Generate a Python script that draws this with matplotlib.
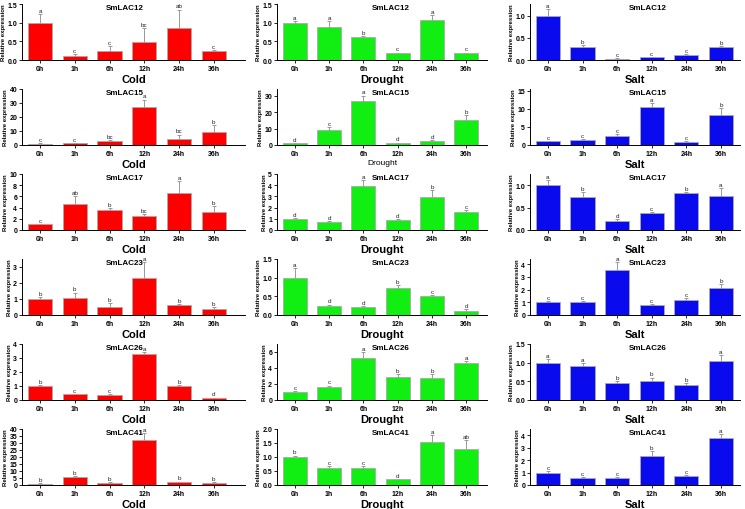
import numpy as np
import matplotlib
matplotlib.use("Agg")
import matplotlib.pyplot as plt

plt.rcParams['font.family'] = ['Liberation Sans', 'DejaVu Sans']

times = ["0h", "1h", "6h", "12h", "24h", "36h"]
genes = ["SmLAC12", "SmLAC15", "SmLAC17", "SmLAC23", "SmLAC26", "SmLAC41"]
treatments = ["Cold", "Drought", "Salt"]

# relative expression, error (upper only) and significance letters
lac12_cold = [1.0, 0.12, 0.25, 0.48, 0.87, 0.24]
lac12_cold_err = [0.22, 0.05, 0.13, 0.37, 0.48, 0.03]
lac12_cold_sig = "a c c bc ab c".split()
lac12_drought = [1.0, 0.89, 0.61, 0.19, 1.06, 0.19]
lac12_drought_err = [0.05, 0.16, 0.02, 0.01, 0.14, 0.01]
lac12_drought_sig = "a a b c a c".split()
lac12_salt = [1.0, 0.29, 0.03, 0.06, 0.12, 0.29]
lac12_salt_err = [0.15, 0.04, 0.005, 0.01, 0.01, 0.03]
lac12_salt_sig = "a b c c c b".split()

lac15_cold = [1.0, 1.3, 3.2, 27.5, 4.5, 9.0]
lac15_cold_err = [0.2, 0.2, 0.5, 5.0, 3.0, 5.5]
lac15_cold_sig = "c c bc a bc b".split()
lac15_drought = [1.0, 9.0, 26.5, 1.2, 2.3, 15.0]
lac15_drought_err = [0.2, 1.8, 3.5, 0.3, 0.8, 3.0]
lac15_drought_sig = "d c a d d b".split()
lac15_salt = [1.0, 1.4, 2.6, 10.5, 0.9, 8.2]
lac15_salt_err = [0.1, 0.2, 0.4, 1.0, 0.1, 2.0]
lac15_salt_sig = "c c c a c b".split()

lac17_cold = [1.0, 4.6, 3.6, 2.5, 6.6, 3.3]
lac17_cold_err = [0.1, 1.4, 0.3, 0.3, 2.2, 1.0]
lac17_cold_sig = "c ab b bc a b".split()
lac17_drought = [1.0, 0.75, 3.9, 0.85, 2.95, 1.6]
lac17_drought_err = [0.1, 0.05, 0.55, 0.15, 0.65, 0.15]
lac17_drought_sig = "d d a d b c".split()
lac17_salt = [1.0, 0.74, 0.19, 0.37, 0.83, 0.76]
lac17_salt_err = [0.12, 0.1, 0.05, 0.04, 0.02, 0.18]
lac17_salt_sig = "a b d c b a".split()

lac23_cold = [1.0, 1.05, 0.52, 2.3, 0.65, 0.4]
lac23_cold_err = [0.1, 0.35, 0.25, 1.0, 0.05, 0.1]
lac23_cold_sig = "b b b a b b".split()
lac23_drought = [1.0, 0.24, 0.22, 0.72, 0.50, 0.12]
lac23_drought_err = [0.25, 0.04, 0.02, 0.08, 0.03, 0.03]
lac23_drought_sig = "a d d b c d".split()
lac23_salt = [1.0, 1.0, 3.55, 0.75, 1.15, 2.15]
lac23_salt_err = [0.1, 0.1, 0.6, 0.1, 0.15, 0.3]
lac23_salt_sig = "c c a c c b".split()

lac26_cold = [1.0, 0.4, 0.35, 3.3, 1.0, 0.15]
lac26_cold_err = [0.05, 0.05, 0.05, 0.1, 0.05, 0.02]
lac26_cold_sig = "b c c a b d".split()
lac26_drought = [1.0, 1.6, 5.2, 2.9, 2.7, 4.6]
lac26_drought_err = [0.1, 0.2, 0.8, 0.3, 0.5, 0.3]
lac26_drought_sig = "c c a b b a".split()
lac26_salt = [1.0, 0.9, 0.45, 0.5, 0.4, 1.05]
lac26_salt_err = [0.1, 0.1, 0.05, 0.1, 0.05, 0.15]
lac26_salt_sig = "a a b b b a".split()

lac41_cold = [1.0, 6.0, 1.5, 32.0, 2.0, 1.5]
lac41_cold_err = [0.2, 0.5, 0.3, 5.0, 0.5, 0.3]
lac41_cold_sig = "b b b a b b".split()
lac41_drought = [1.0, 0.62, 0.62, 0.2, 1.52, 1.3]
lac41_drought_err = [0.05, 0.05, 0.05, 0.02, 0.25, 0.3]
lac41_drought_sig = "b c c d a ab".split()
lac41_salt = [1.0, 0.6, 0.6, 2.3, 0.7, 3.8]
lac41_salt_err = [0.1, 0.05, 0.05, 0.4, 0.1, 0.3]
lac41_salt_sig = "c c c b c a".split()

data = [
    [(lac12_cold, lac12_cold_err, lac12_cold_sig), (lac12_drought, lac12_drought_err, lac12_drought_sig), (lac12_salt, lac12_salt_err, lac12_salt_sig)],
    [(lac15_cold, lac15_cold_err, lac15_cold_sig), (lac15_drought, lac15_drought_err, lac15_drought_sig), (lac15_salt, lac15_salt_err, lac15_salt_sig)],
    [(lac17_cold, lac17_cold_err, lac17_cold_sig), (lac17_drought, lac17_drought_err, lac17_drought_sig), (lac17_salt, lac17_salt_err, lac17_salt_sig)],
    [(lac23_cold, lac23_cold_err, lac23_cold_sig), (lac23_drought, lac23_drought_err, lac23_drought_sig), (lac23_salt, lac23_salt_err, lac23_salt_sig)],
    [(lac26_cold, lac26_cold_err, lac26_cold_sig), (lac26_drought, lac26_drought_err, lac26_drought_sig), (lac26_salt, lac26_salt_err, lac26_salt_sig)],
    [(lac41_cold, lac41_cold_err, lac41_cold_sig), (lac41_drought, lac41_drought_err, lac41_drought_sig), (lac41_salt, lac41_salt_err, lac41_salt_sig)],
]

# y axis top and tick step per panel
ylims = [
    [(1.5, 0.5), (1.5, 0.5), (1.27, 0.5)],
    [(40, 10), (34, 10), (15.5, 5)],
    [(10, 2), (5, 1), (1.25, 0.5)],
    [(3.5, 1), (1.5, 0.5), (4.4, 1)],
    [(4, 1), (7, 2), (1.5, 0.5)],
    [(40, 5), (2.0, 0.5), (4.5, 1)],
]

colors = ["#ff0000", "#11ee11", "#0a0aee"]
W, H = 745, 510
col_x = [(22, 245, 5.9), (277, 487, 5.6), (530, 740, 5.55)]
title_x = [0.46, 0.54, 0.56]

fig = plt.figure(figsize=(W / 100, H / 100), dpi=100)
x = np.arange(len(times))

for r in range(6):
    bottom_px = 61 + 85 * r
    for c in range(3):
        x0, x1, xr = col_x[c]
        ax = fig.add_axes([x0 / W, 1 - bottom_px / H, (x1 - x0) / W, 56 / H])
        vals, err, sig = data[r][c]
        ax.bar(x, vals, width=0.7, color=colors[c], edgecolor="#aaaaaa", linewidth=0.6, zorder=2)
        ax.errorbar(x, vals, yerr=[np.zeros(len(err)), err], fmt="none",
                    ecolor="#999999", elinewidth=0.7, capsize=1.5, capthick=0.7, zorder=1)
        top, step = ylims[r][c]
        for xi, v, e, s in zip(x, vals, err, sig):
            ax.text(xi, v + e + top * 0.02, s, ha="center", va="bottom", fontsize=4.5, color="#222222")
        ax.set_ylim(0, top)
        ax.set_xlim(-0.52, xr)
        ticks = np.arange(0, top + 1e-9, step)
        ax.set_yticks(ticks)
        if step < 1:
            ax.set_yticklabels([f"{t:.1f}" for t in ticks])
        else:
            ax.set_yticklabels([f"{t:.0f}" for t in ticks])
        ax.set_xticks(x)
        ax.set_xticklabels(times)
        for sp in ["top", "right"]:
            ax.spines[sp].set_visible(False)
        for sp in ["left", "bottom"]:
            ax.spines[sp].set_linewidth(0.7)
        ax.tick_params(axis="both", labelsize=5, width=0.6, length=2, pad=1.5)
        for lab in ax.get_xticklabels() + ax.get_yticklabels():
            lab.set_fontweight("bold")
        ax.set_ylabel("Relative expression", fontsize=4.3, fontweight="bold", labelpad=1)
        if r == 1 and c == 1:
            ax.set_xlabel(treatments[c], fontsize=6, labelpad=1.5)
        else:
            ax.set_xlabel(treatments[c], fontsize=8, fontweight="bold", labelpad=1.5)
        ax.text(title_x[c], 1.0, genes[r], transform=ax.transAxes, ha="center", va="top",
                fontsize=5.8, fontweight="bold")

fig.savefig("out.png", dpi=100)
